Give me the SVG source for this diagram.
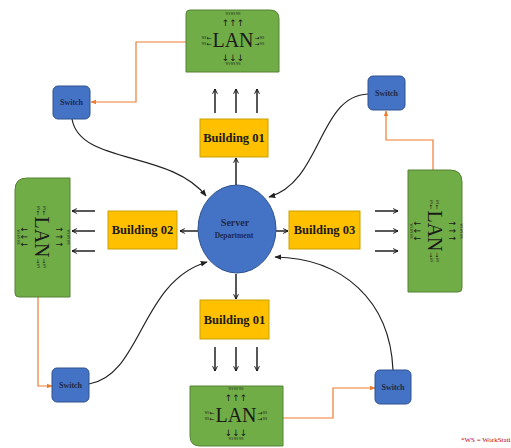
<svg xmlns="http://www.w3.org/2000/svg" width="511" height="448" viewBox="0 0 511 448">
<defs>
<style>
.lan{fill:#70AD47;stroke:#548235;stroke-width:1}
.lt{font-family:"Liberation Serif",serif;fill:#1a1a1a}
.big{font-size:20px;text-anchor:middle}
.arr{font-size:9px;text-anchor:middle;font-family:"DejaVu Sans",sans-serif;fill:#1a1a1a}
.ws{font-size:3px;text-anchor:middle;font-family:"Liberation Serif",serif;fill:#1a1a1a}
.sw{fill:#4472C4;stroke:#2F528F;stroke-width:1}
.swt{font-family:"Liberation Serif",serif;font-weight:bold;font-size:8px;fill:#1F2A4A;text-anchor:middle}
.bld{fill:#FFC000;stroke:#C9A100;stroke-width:1}
.bt{font-family:"Liberation Serif",serif;font-weight:bold;font-size:12.5px;fill:#1a1a1a;text-anchor:middle}
.bk{stroke:#111;stroke-width:1.4;fill:none;marker-end:url(#open)}
.cv{stroke:#222;stroke-width:1.2;fill:none;marker-end:url(#blk)}
.or{stroke:#ED7D31;stroke-width:1.2;fill:none;marker-end:url(#org)}
</style>
<marker id="open" viewBox="0 0 10 10" refX="9" refY="5" markerWidth="6" markerHeight="6" orient="auto" markerUnits="userSpaceOnUse">
<polyline points="1,1 9,5 1,9" fill="none" stroke="#111" stroke-width="1.6"/>
</marker>
<marker id="blk" viewBox="0 0 10 10" refX="9" refY="5" markerWidth="7" markerHeight="7" orient="auto" markerUnits="userSpaceOnUse">
<path d="M0,1 L10,5 L0,9 Z" fill="#222"/>
</marker>
<marker id="org" viewBox="0 0 10 10" refX="9" refY="5" markerWidth="6" markerHeight="6" orient="auto" markerUnits="userSpaceOnUse">
<path d="M0,1 L10,5 L0,9 Z" fill="#ED7D31"/>
</marker>
</defs>
<rect width="511" height="448" fill="#ffffff"/>

<g id="connectors">
<path class="cv" d="M72,119 C 80,165 170,150 206,196"/>
<path class="cv" d="M368,94 C 318,96 322,182 269,197"/>
<path class="cv" d="M89,384 C 142,375 140,282 207,262"/>
<path class="cv" d="M393,370 C 390,300 342,258 275,257"/>
<path class="or" d="M186,42 H136 V102 H91"/>
<path class="or" d="M433,170 V140 H386 V111"/>
<path class="or" d="M38,297 V386 H52"/>
<path class="or" d="M283,418 H333 V388 H375"/>
<path class="bk" d="M236,185 V158"/>
<path class="bk" d="M198,231 H180"/>
<path class="bk" d="M276,231 H288"/>
<path class="bk" d="M236,274 V299"/>
<path class="bk" d="M215,113 V89"/>
<path class="bk" d="M236,113 V89"/>
<path class="bk" d="M257,113 V89"/>
<path class="bk" d="M215,347 V371"/>
<path class="bk" d="M236,347 V371"/>
<path class="bk" d="M257,347 V371"/>
<path class="bk" d="M95,211 H72"/>
<path class="bk" d="M95,231 H72"/>
<path class="bk" d="M95,251 H72"/>
<path class="bk" d="M375,211 H398"/>
<path class="bk" d="M375,231 H398"/>
<path class="bk" d="M375,251 H398"/>
</g>

<g id="lan-top">
<path class="lan" d="M190,10 H270 Q279,10 279,19 V72 H186 V14 Q186,10 190,10 Z"/>
<g transform="translate(233,40)">
<text class="ws" x="0" y="-25">WS WS WS</text>
<text class="arr" x="0" y="-14">↑↑↑</text>
<text class="lt big" x="0" y="7">LAN</text>
<text class="arr" x="0" y="21">↓↓↓</text>
<text class="ws" x="0" y="25">WS WS WS</text>
<text class="arr" x="-24" y="0" style="font-size:6px">←</text>
<text class="arr" x="-24" y="6" style="font-size:6px">←</text>
<text class="arr" x="24" y="0" style="font-size:6px">→</text>
<text class="arr" x="24" y="6" style="font-size:6px">→</text>
<text class="ws" x="-29" y="-1">WS</text>
<text class="ws" x="-29" y="5">WS</text>
<text class="ws" x="29" y="-1">WS</text>
<text class="ws" x="29" y="5">WS</text>
</g>
</g>

<g id="lan-left">
<path class="lan" d="M27,178 H70 V297 H19 Q15,297 15,293 V190 Q15,178 27,178 Z"/>
<g transform="translate(42,237) rotate(90)">
<text class="ws" x="0" y="-25">WS WS WS</text>
<text class="arr" x="0" y="-14">↑↑↑</text>
<text class="lt big" x="0" y="7">LAN</text>
<text class="arr" x="0" y="21">↓↓↓</text>
<text class="ws" x="0" y="25">WS WS WS</text>
<text class="arr" x="-24" y="0" style="font-size:6px">←</text>
<text class="arr" x="-24" y="6" style="font-size:6px">←</text>
<text class="arr" x="24" y="0" style="font-size:6px">→</text>
<text class="arr" x="24" y="6" style="font-size:6px">→</text>
<text class="ws" x="-29" y="-1">WS</text>
<text class="ws" x="-29" y="5">WS</text>
<text class="ws" x="29" y="-1">WS</text>
<text class="ws" x="29" y="5">WS</text>
</g>
</g>

<g id="lan-right">
<path class="lan" d="M408,170 H450 Q462,170 462,182 V288 Q462,292 458,292 H408 Z"/>
<g transform="translate(435,231) rotate(90)">
<text class="ws" x="0" y="-25">WS WS WS</text>
<text class="arr" x="0" y="-14">↑↑↑</text>
<text class="lt big" x="0" y="7">LAN</text>
<text class="arr" x="0" y="21">↓↓↓</text>
<text class="ws" x="0" y="25">WS WS WS</text>
<text class="arr" x="-24" y="0" style="font-size:6px">←</text>
<text class="arr" x="-24" y="6" style="font-size:6px">←</text>
<text class="arr" x="24" y="0" style="font-size:6px">→</text>
<text class="arr" x="24" y="6" style="font-size:6px">→</text>
<text class="ws" x="-29" y="-1">WS</text>
<text class="ws" x="-29" y="5">WS</text>
<text class="ws" x="29" y="-1">WS</text>
<text class="ws" x="29" y="5">WS</text>
</g>
</g>

<g id="lan-bottom">
<path class="lan" d="M190,386 H283 V446 H200 Q190,446 190,436 Z"/>
<g transform="translate(236,415)">
<text class="ws" x="0" y="-25">WS WS WS</text>
<text class="arr" x="0" y="-14">↑↑↑</text>
<text class="lt big" x="0" y="7">LAN</text>
<text class="arr" x="0" y="21">↓↓↓</text>
<text class="ws" x="0" y="25">WS WS WS</text>
<text class="arr" x="-24" y="0" style="font-size:6px">←</text>
<text class="arr" x="-24" y="6" style="font-size:6px">←</text>
<text class="arr" x="24" y="0" style="font-size:6px">→</text>
<text class="arr" x="24" y="6" style="font-size:6px">→</text>
<text class="ws" x="-29" y="-1">WS</text>
<text class="ws" x="-29" y="5">WS</text>
<text class="ws" x="29" y="-1">WS</text>
<text class="ws" x="29" y="5">WS</text>
</g>
</g>

<g id="building-01-top">
<rect class="bld" x="200" y="119" width="68" height="38"/>
<text class="bt" x="234" y="142">Building 01</text>
</g>
<g id="building-02">
<rect class="bld" x="108" y="211" width="69" height="38"/>
<text class="bt" x="142.5" y="234">Building 02</text>
</g>
<g id="building-03">
<rect class="bld" x="289" y="211" width="71" height="38"/>
<text class="bt" x="324.5" y="234">Building 03</text>
</g>
<g id="building-01-bottom">
<rect class="bld" x="200" y="300" width="69" height="39"/>
<text class="bt" x="234.5" y="324">Building 01</text>
</g>

<g id="server">
<ellipse cx="237" cy="229" rx="39" ry="44" fill="#4472C4" stroke="#2F528F" stroke-width="1"/>
<text x="235" y="226" font-family="Liberation Serif, serif" font-weight="bold" font-size="10" fill="#1F2A4A" text-anchor="middle">Server</text>
<text x="234" y="238" font-family="Liberation Serif, serif" font-weight="bold" font-size="7.5" fill="#1F2A4A" text-anchor="middle">Department</text>
</g>

<g id="switch-tl">
<rect class="sw" x="53" y="86" width="37" height="33" rx="5"/>
<text class="swt" x="71.5" y="105">Switch</text>
</g>
<g id="switch-tr">
<rect class="sw" x="368" y="76" width="37" height="34" rx="5"/>
<text class="swt" x="386.5" y="96">Switch</text>
</g>
<g id="switch-bl">
<rect class="sw" x="52" y="368" width="37" height="34" rx="5"/>
<text class="swt" x="70.5" y="388">Switch</text>
</g>
<g id="switch-br">
<rect class="sw" x="375" y="370" width="36" height="34" rx="5"/>
<text class="swt" x="393" y="390">Switch</text>
</g>

<text x="461" y="442" font-family="Liberation Serif, serif" font-size="7" fill="#C00000">*WS = WorkStati</text>
</svg>
